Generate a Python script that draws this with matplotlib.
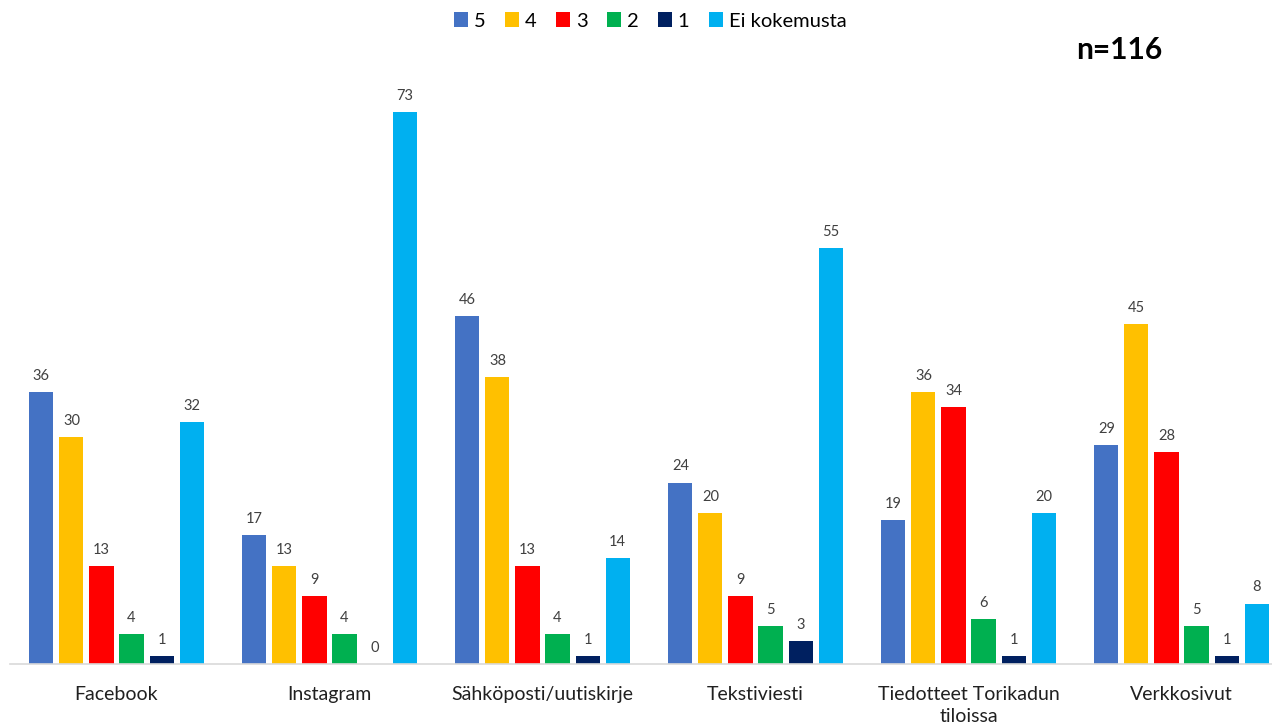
import numpy as np
import matplotlib
matplotlib.use("Agg")
import matplotlib.pyplot as plt

plt.rcParams['font.family'] = ['Lato', 'DejaVu Sans']

# -----------------------
# DATA
# -----------------------
categories = ["Facebook", "Instagram", "Sähköposti/uutiskirje", "Tekstiviesti",
              "Tiedotteet Torikadun\ntiloissa", "Verkkosivut"]
series_names = ["5", "4", "3", "2", "1", "Ei kokemusta"]
v5 = [36, 17, 46, 24, 19, 29]
v4 = [30, 13, 38, 20, 36, 45]
v3 = [13, 9, 13, 9, 34, 28]
v2 = [4, 4, 4, 5, 6, 5]
v1 = [1, 0, 1, 3, 1, 1]
v_ei = [32, 73, 14, 55, 20, 8]
colors = ["#4472C4", "#FFC000", "#FF0000", "#00B050", "#002060", "#00B0F0"]

# -----------------------
# FIGURE
# -----------------------
W, H = 1272, 728
fig = plt.figure(figsize=(W / 100, H / 100), dpi=100)
# axes runs slightly past the right edge like the cropped original
left, right = 10, 1288
bottom, top = 664, 59
ax = fig.add_axes([left / W, 1 - bottom / H, (right - left) / W, (bottom - top) / H])

x = np.arange(len(categories))
step = 0.141
width = 0.113
all_series = [v5, v4, v3, v2, v1, v_ei]

for i, (vals, name, col) in enumerate(zip(all_series, series_names, colors)):
    pos = x + (i - 2.5) * step
    ax.bar(pos, vals, width, color=col, label=name, zorder=2)
    for p, v in zip(pos, vals):
        ax.text(p, v + 1.2, str(v), ha="center", va="bottom",
                fontsize=10.5, color="#404040")

ax.set_xlim(-0.5, len(categories) - 0.5)
ax.set_ylim(0, 80)
ax.set_xticks(x)
ax.set_xticklabels(categories, fontsize=14, color="#202020", linespacing=1.35)
ax.tick_params(axis="x", length=0, pad=16)
ax.set_yticks([])
for s in ["top", "right", "left"]:
    ax.spines[s].set_visible(False)
ax.spines["bottom"].set_color("#D9D9D9")
ax.spines["bottom"].set_linewidth(1.2)

fig.legend(loc="center", bbox_to_anchor=(650 / W, 1 - 21 / H), ncol=6,
           frameon=False, fontsize=14.5, handlelength=0.7, handleheight=0.7,
           handletextpad=0.3, columnspacing=0.95)

fig.text(1119 / W, 1 - 50 / H, "n=116", ha="center", va="center",
         fontsize=21.5, fontweight="bold", color="black")

fig.savefig("out.png", dpi=100)
